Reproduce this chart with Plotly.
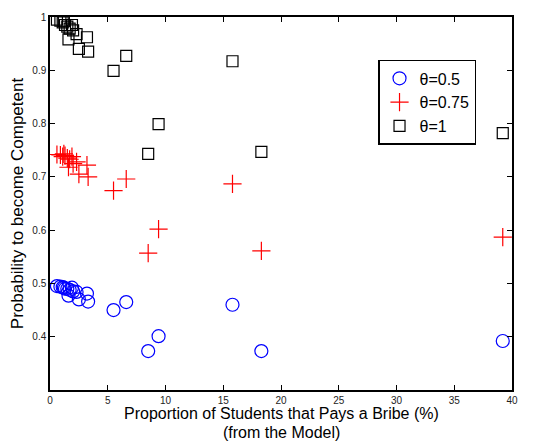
import plotly.graph_objects as go

# Shared x values (proportion of students that pays a bribe, %)
x_vals = [0.6, 0.9, 1.1, 1.3, 1.5, 1.7, 1.9, 2.0, 1.6, 2.5, 3.2, 3.3, 2.3, 1.2,
          5.5, 6.6, 9.4, 8.5, 15.8, 18.3, 39.2]

y_theta05 = [0.495, 0.494, 0.493, 0.490, 0.490, 0.488, 0.492, 0.485, 0.477, 0.470, 0.481, 0.466, 0.484, 0.492,
             0.450, 0.465, 0.401, 0.373, 0.460, 0.373, 0.392]
y_theta075 = [0.742, 0.741, 0.738, 0.740, 0.735, 0.733, 0.738, 0.725, 0.718, 0.705, 0.722, 0.700, 0.728, 0.743,
              0.674, 0.696, 0.602, 0.557, 0.687, 0.561, 0.587]
y_theta1 = [0.995, 0.993, 0.990, 0.985, 0.982, 0.978, 0.985, 0.975, 0.958, 0.940, 0.962, 0.935, 0.968, 0.992,
            0.899, 0.927, 0.799, 0.743, 0.917, 0.747, 0.782]

x_ticks = [0, 5, 10, 15, 20, 25, 30, 35, 40]
y_ticks = [0.4, 0.5, 0.6, 0.7, 0.8, 0.9, 1.0]
y_ticktext = ["0.4", "0.5", "0.6", "0.7", "0.8", "0.9", "1"]
x_title_lines = ["Proportion of Students that Pays a Bribe (%)", "(from the Model)"]

fig = go.Figure()
fig.add_trace(go.Scatter(x=x_vals, y=y_theta05, mode="markers", name="θ=0.5",
                         marker=dict(symbol="circle-open", size=13, color="#0000FF", line=dict(width=1.2))))
fig.add_trace(go.Scatter(x=x_vals, y=y_theta075, mode="markers", name="θ=0.75",
                         marker=dict(symbol="cross-thin-open", size=13, color="#FF0000", line=dict(width=1.2, color="#FF0000"))))
fig.add_trace(go.Scatter(x=x_vals, y=y_theta1, mode="markers", name="θ=1",
                         marker=dict(symbol="square-open", size=11, color="#000000", line=dict(width=1.2))))

axis_common = dict(showgrid=False, zeroline=False, showline=True, linecolor="black", linewidth=1.5,
                   mirror="ticks", ticks="inside", ticklen=5, tickcolor="black",
                   tickfont=dict(family="Liberation Sans, Arial", size=10, color="#222"))

fig.update_xaxes(range=[0, 40], tickvals=x_ticks, **axis_common)
fig.update_yaxes(range=[0.3, 1.0], tickvals=y_ticks, ticktext=y_ticktext, **axis_common,
                 title=dict(text="Probability to become Competent",
                            font=dict(family="Liberation Sans, Arial", size=17, color="black"), standoff=5))

# x-axis title as two centred lines below the axis
for txt, yy in zip(x_title_lines, [-0.062, -0.115]):
    fig.add_annotation(text=txt, x=0.5, y=yy, xref="paper", yref="paper",
                       xanchor="center", yanchor="middle", showarrow=False,
                       font=dict(family="Liberation Sans, Arial", size=16, color="black"))

fig.update_layout(
    width=526, height=434,
    margin=dict(l=42, r=22, t=9, b=52, autoexpand=False),
    plot_bgcolor="white", paper_bgcolor="white",
    showlegend=True,
    legend=dict(x=0.71, y=0.885, xanchor="left", yanchor="top",
                bordercolor="black", borderwidth=1.5, bgcolor="white",
                font=dict(family="Liberation Sans, Arial", size=16, color="black"),
                itemsizing="trace", tracegroupgap=0),
)

fig.write_html("out.html")
